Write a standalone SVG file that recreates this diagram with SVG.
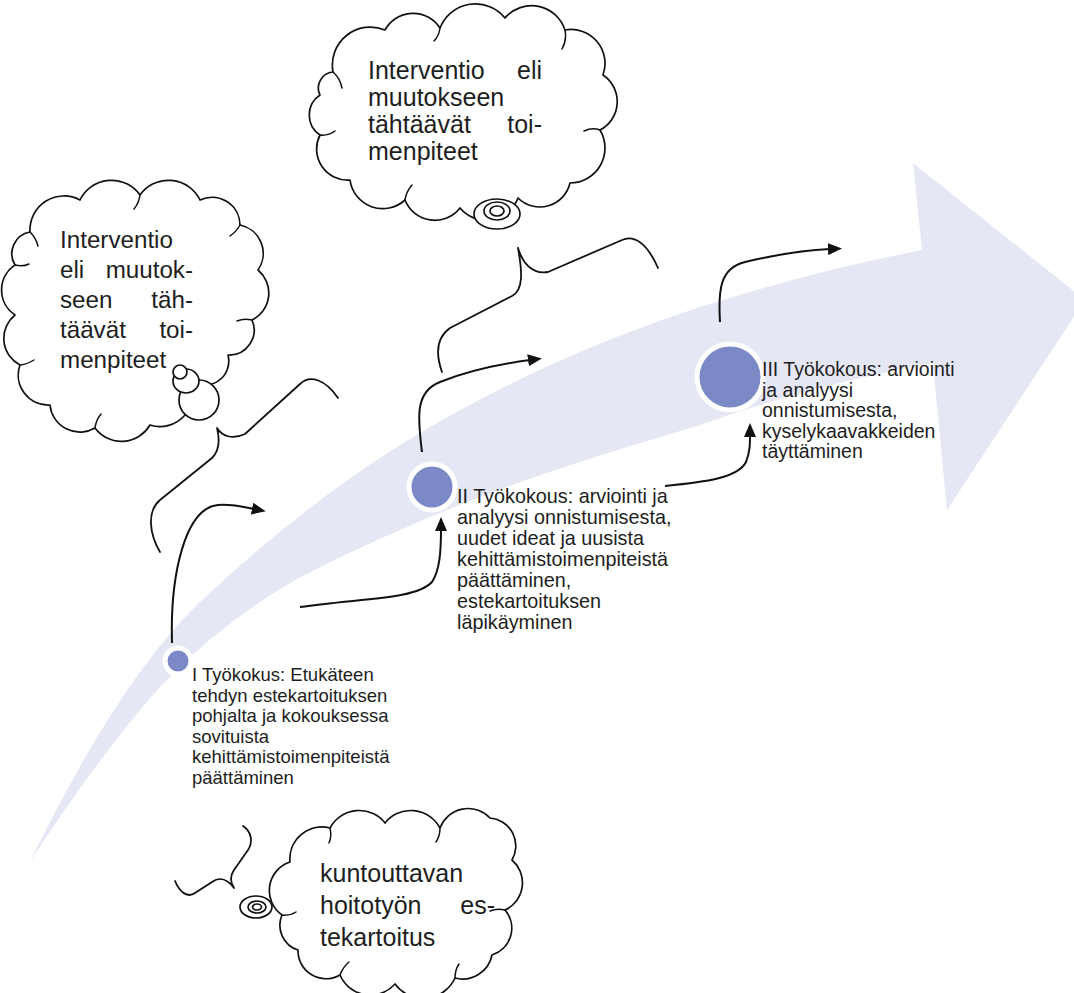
<svg xmlns="http://www.w3.org/2000/svg" width="1074" height="993" viewBox="0 0 1074 993">
<defs>
<style>
.t{font-family:"Liberation Sans",Arial,sans-serif;fill:#1e1e1e}
.cl{fill:#fff;stroke:#111;stroke-width:1.7;stroke-linejoin:round}
.hk{fill:none;stroke:#111;stroke-width:1.5;stroke-linecap:round}
.br{fill:none;stroke:#111;stroke-width:1.8;stroke-linecap:round;stroke-linejoin:round}
.cn{fill:none;stroke:#111;stroke-width:2}
.dot{fill:#7b8ac6;stroke:#fff;stroke-width:5}
</style>
<marker id="ah" viewBox="0 0 14 12" refX="2" refY="6" markerWidth="14" markerHeight="12" markerUnits="userSpaceOnUse" orient="auto">
<path d="M0,0 L14,6 L0,12 z" fill="#111"/>
</marker>
</defs>
<rect width="1074" height="993" fill="#fff"/>
<g id="big-arrow">
<path fill="#e5e7f5" d="M 30 862 C 70 780 130 670 197 605 C 260 545 340 480 420 433 C 510 380 600 340 700 307 C 780 282 850 264 922 250 L 913 163 L 1085 300 L 947 510 L 933 363 C 850 378 770 400 700 425 C 600 455 500 485 400 530 C 350 552 300 575 263 600 C 215 632 175 668 140 710 C 95 765 60 815 30 862 Z"/>
</g>
<g id="connectors">
<path class="cn" marker-end="url(#ah)" d="M 172 643 C 170 575 185 508 218 505 C 232 504 244 507 254 509"/>
<path class="cn" marker-end="url(#ah)" d="M 300 607 C 360 598 415 600 432 582 C 440 570 441 550 441 529"/>
<path class="cn" marker-end="url(#ah)" d="M 422 452 C 418 420 414 392 440 382 C 465 372 500 364 530 360"/>
<path class="cn" marker-end="url(#ah)" d="M 665 486 C 705 482 738 478 746 462 C 750 452 750 444 750 435"/>
<path class="cn" marker-end="url(#ah)" d="M 720 322 C 718 290 720 268 745 262 C 775 255 805 250 830 249"/>
</g>
<g id="braces">
<path class="br" d="M 160 552 C 150 535 146 512 160 500 L 212 458 C 220 450 220 440 217 428 C 222 436 232 440 245 434 L 300 384 C 310 374 326 380 338 398"/>
<path class="br" d="M 442 372 C 436 355 436 338 450 328 L 512 296 C 524 290 522 270 518 248 C 522 262 532 275 548 272 L 622 240 C 635 234 648 245 658 268"/>
<path class="br" d="M 243 826 C 252 832 253 842 248 850 L 234 870 C 230 876 230 882 234 888 C 228 880 220 876 212 882 L 195 893 C 188 898 180 893 175 881"/>
</g>
<g id="node-meeting-1">
<circle class="dot" cx="178" cy="661" r="13"/>
<text class="t" font-size="18.5"><tspan x="192" y="681">I Työkokus: Etukäteen</tspan><tspan x="192" y="701.5">tehdyn estekartoituksen</tspan><tspan x="192" y="722">pohjalta ja kokouksessa</tspan><tspan x="192" y="742.5">sovituista</tspan><tspan x="192" y="763">kehittämistoimenpiteistä</tspan><tspan x="192" y="783.5">päättäminen</tspan></text>
</g>
<g id="node-meeting-2">
<circle class="dot" cx="432" cy="487" r="23"/>
<text class="t" font-size="19.8"><tspan x="457" y="503">II Työkokous: arviointi ja</tspan><tspan x="457" y="524">analyysi onnistumisesta,</tspan><tspan x="457" y="545">uudet ideat ja uusista</tspan><tspan x="457" y="566">kehittämistoimenpiteistä</tspan><tspan x="457" y="587">päättäminen,</tspan><tspan x="457" y="608">estekartoituksen</tspan><tspan x="457" y="629">läpikäyminen</tspan></text>
</g>
<g id="node-meeting-3">
<circle class="dot" cx="730" cy="377" r="33"/>
<text class="t" font-size="19.5"><tspan x="762" y="376">III Työkokous: arviointi</tspan><tspan x="762" y="396.5">ja analyysi</tspan><tspan x="762" y="417">onnistumisesta,</tspan><tspan x="762" y="437.5">kyselykaavakkeiden</tspan><tspan x="762" y="458">täyttäminen</tspan></text>
</g>
<g id="cloud-top">
<path class="cl" d="M 333 72 A 38 38 0 0 1 385 30 A 32 32 0 0 1 440 28 A 38 38 0 0 1 505 18 A 35 35 0 0 1 565 30 A 34 34 0 0 1 603 75 A 32 32 0 0 1 600 130 A 35 35 0 0 1 570 183 A 31 31 0 0 1 518 198 A 34 34 0 0 1 460 208 A 32 32 0 0 1 405 200 A 33 33 0 0 1 350 180 A 31 31 0 0 1 320 135 A 24 24 0 0 1 320 95 A 16 16 0 0 1 333 72 Z"/>
<path class="hk" d="M 333 72 Q 340 78 342 88 M 440 28 Q 439 36 434 41 M 565 30 Q 567 40 562 49 M 600 130 Q 592 127 584 131 M 405 200 Q 406 192 412 185 M 320 135 Q 328 136 335 131"/>
<ellipse class="cl" cx="497" cy="214" rx="23" ry="15"/>
<ellipse class="cl" cx="497" cy="211" rx="13" ry="9"/>
<ellipse class="cl" cx="497" cy="211" rx="7" ry="5"/>
<text class="t" font-size="25"><tspan x="368" y="79">Interventio</tspan><tspan x="542" y="79" text-anchor="end">eli</tspan><tspan x="368" y="106">muutokseen</tspan><tspan x="368" y="133">tähtäävät</tspan><tspan x="542" y="133" text-anchor="end">toi-</tspan><tspan x="368" y="160">menpiteet</tspan></text>
</g>
<g id="cloud-left">
<path class="cl" d="M 30 232 A 34 34 0 0 1 80 200 A 35 35 0 0 1 140 195 A 35 35 0 0 1 200 200 A 28 28 0 0 1 240 225 A 29 29 0 0 1 258 270 A 30 30 0 0 1 252 320 A 25 25 0 0 1 228 355 A 24 24 0 0 1 190 380 A 33 33 0 0 1 150 425 A 33 33 0 0 1 95 428 A 30 30 0 0 1 50 405 A 30 30 0 0 1 20 365 A 30 30 0 0 1 15 315 A 30 30 0 0 1 15 265 A 22 22 0 0 1 30 232 Z"/>
<path class="hk" d="M 30 232 Q 36 238 38 246 M 140 195 Q 139 203 134 209 M 240 225 Q 236 232 230 236 M 252 320 Q 244 318 237 321 M 95 428 Q 96 420 101 414 M 20 365 Q 28 364 34 360 M 15 265 Q 23 267 29 264"/>
<circle class="cl" cx="199" cy="400" r="20"/>
<ellipse class="cl" cx="186" cy="381" rx="13" ry="12"/>
<circle class="cl" cx="180" cy="372" r="7"/>
<text class="t" font-size="24.2"><tspan x="60" y="248">Interventio</tspan><tspan x="60" y="278">eli</tspan><tspan x="193" y="278" text-anchor="end">muutok-</tspan><tspan x="60" y="308">seen</tspan><tspan x="193" y="308" text-anchor="end">täh-</tspan><tspan x="60" y="338">täävät</tspan><tspan x="193" y="338" text-anchor="end">toi-</tspan><tspan x="60" y="368">menpiteet</tspan></text>
</g>
<g id="cloud-bottom">
<path class="cl" d="M 290 862 A 32 32 0 0 1 330 828 A 33 33 0 0 1 385 823 A 33 33 0 0 1 440 828 A 30 30 0 0 1 490 818 A 28 28 0 0 1 512 860 A 30 30 0 0 1 505 910 A 28 28 0 0 1 492 955 A 30 30 0 0 1 455 978 A 35 35 0 0 1 395 984 A 33 33 0 0 1 340 975 A 28 28 0 0 1 298 950 A 26 26 0 0 1 282 915 A 30 30 0 0 1 290 862 Z"/>
<path class="hk" d="M 330 828 Q 332 836 329 843 M 440 828 Q 440 836 436 842 M 505 910 Q 497 908 490 911 M 455 978 Q 455 970 459 964 M 340 975 Q 343 967 349 962 M 282 915 Q 290 916 296 912"/>
<ellipse class="cl" cx="256" cy="907" rx="16" ry="11"/>
<ellipse class="cl" cx="257" cy="907" rx="9" ry="6"/>
<ellipse class="cl" cx="257" cy="907" rx="4.5" ry="3"/>
<text class="t" font-size="25"><tspan x="320" y="882">kuntouttavan</tspan><tspan x="320" y="914">hoitotyön</tspan><tspan x="495" y="914" text-anchor="end">es-</tspan><tspan x="320" y="946">tekartoitus</tspan></text>
</g>
</svg>
